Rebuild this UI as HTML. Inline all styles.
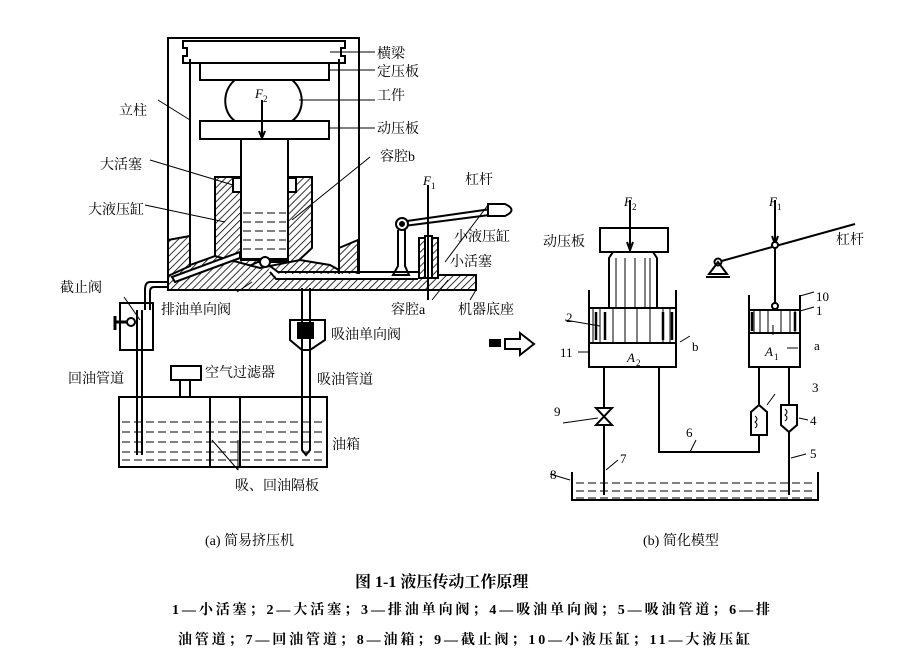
<!DOCTYPE html>
<html><head><meta charset="utf-8"><style>
html,body{margin:0;padding:0;background:#fff;width:905px;height:661px;overflow:hidden}
svg{display:block}
text{font-family:"Liberation Serif","Noto Serif CJK SC","Noto Sans CJK SC",serif;fill:#000}
.c{font-family:"Liberation Sans","Noto Sans CJK SC",sans-serif;font-size:14px}
</style></head><body>
<svg width="905" height="661" viewBox="0 0 905 661" xmlns="http://www.w3.org/2000/svg">
<defs>
<pattern id="h" width="5" height="5" patternUnits="userSpaceOnUse" patternTransform="rotate(45)">
<rect width="5" height="5" fill="#fff"/><line x1="0" y1="0" x2="0" y2="5" stroke="#000" stroke-width="1.6"/></pattern>
</defs>
<g fill="none" stroke="#000" stroke-width="2">
<path d="M168 278 V38 H359 V278"/>
<path d="M190 260 V59 M339 260 V59"/>
<path d="M183 41 H345 V48 H341 V56 H345 V63 H183 V56 H187 V48 H183 Z"/>
<rect x="200" y="63" width="129" height="17"/>
<path d="M235 80 C222 90 222 112 235 121 H292 C305 112 305 90 292 80 Z"/>
<rect x="200" y="121" width="129" height="18"/>
<line x1="262" y1="100" x2="262" y2="137"/>
<path d="M259 131 L262 138 L265 131"/>
<path d="M215 177 H312 V248 L297 262 H258 L240 270 H215 Z" fill="url(#h)"/>
<rect x="241" y="182" width="47" height="78" fill="#fff"/>
<rect x="241" y="139" width="47" height="120" fill="#fff"/>
<rect x="233" y="178" width="8" height="14" fill="#fff"/>
<rect x="288" y="178" width="8" height="14" fill="#fff"/>
<path d="M168 290 V275 L190 265 L215 256 L260 268 L300 260 L330 265 L339 270 V275 H476 V290 Z" fill="url(#h)"/>
<path d="M168 240 L190 236 V266 L168 276 Z" fill="url(#h)"/>
<path d="M339 248 L358 240 V276 H339 Z" fill="url(#h)"/>
<path d="M172 277 L240 252 L240 258 L175 282 Z" fill="#fff"/>
<circle cx="265" cy="262" r="5" fill="#fff"/>
<path d="M270 268 L278 276 H420" stroke-width="4" stroke="#fff"/>
<path d="M270 266 L278 272 H420 M270 272 L276 279 H418"/>
<rect x="419" y="238" width="19" height="40" fill="url(#h)"/>
<rect x="425" y="236" width="7" height="42" fill="#fff"/>
<line x1="428" y1="185" x2="428" y2="300"/>
<path d="M400 222 L505 207"/>
<path d="M404 226 L505 213"/>
<path d="M488 204 H505 Q518 210 505 216 H488 Z" fill="#fff"/>
<circle cx="402" cy="224" r="6" fill="#fff"/>
<circle cx="402" cy="224" r="2" fill="#000"/>
<path d="M398 230 V266 L393 275 H409 L405 266 V230"/>
<path d="M168 282 H150 Q145 282 145 290 V310"/>
<path d="M168 287 H154 Q150 287 150 292 V310"/>
<rect x="120" y="303" width="33" height="47"/>
<path d="M115 322 H128 M115 316 V330" stroke-width="3"/>
<circle cx="131" cy="322" r="4"/>
<path d="M137 310 V455 M142 310 V455"/>
<path d="M302 288 V450 L306 455 L310 450 V288"/>
<path d="M290 320 H325 V340 L310 350 H302 L290 340 Z"/>
<rect x="298" y="323" width="15" height="15" fill="#000"/>
<rect x="119" y="397" width="208" height="70"/>
<rect x="171" y="366" width="30" height="14"/>
<path d="M180 380 V397 M190 380 V397"/>
<path d="M210 397 V467 M240 397 V467"/>
</g>
<g stroke="#000" stroke-width="1" stroke-dasharray="8 4" fill="none">
<path d="M243 213 H286 M243 222 H286 M243 231 H286 M243 240 H286 M243 249 H286"/>
<path d="M122 422 H324 M122 432 H324 M122 442 H324 M122 452 H324 M122 460 H324"/>
<path d="M576 483 H815 M576 491 H815 M576 498 H815"/>
</g>
<g fill="none" stroke="#000" stroke-width="1">
<path d="M158 100 L190 120 M150 160 L233 185 M145 205 L225 222 M330 52 H375 M329 70 H375 M299 100 H375 M329 128 H375 M292 220 L370 157 M432 300 L448 280 M445 262 L488 205 M476 290 L470 300 M237 292 L252 282 M124 297 L140 320 M238 470 L212 440 M238 470 L238 440"/>
</g>
<g fill="none" stroke="#000" stroke-width="2">
<rect x="600" y="228" width="68" height="24"/>
<path d="M609 308 V258 L613 252 H653 L657 258 V308"/>
<path d="M589 290 V367 H676 V290"/>
<rect x="589" y="308" width="87" height="35"/>
<path d="M749 295 V367 H800 V295"/>
<rect x="749" y="310" width="51" height="23"/>
<line x1="630" y1="200" x2="630" y2="250"/><path d="M627 242 L630 250 L633 242"/>
<line x1="775" y1="200" x2="775" y2="305"/><path d="M772 236 L775 244 L778 236"/>
<path d="M718 262 L855 224"/>
<circle cx="775" cy="245" r="3" fill="#fff"/><circle cx="775" cy="306" r="3" fill="#fff"/>
<circle cx="718" cy="262" r="3.5" fill="#fff"/>
<path d="M718 262 L709 274 H727 Z M706 277 H730"/>
<path d="M604 367 V495 M659 367 V452 H759 V435 M759 367 V408 M789 367 V495"/>
<path d="M596 408 H612 L596 425 H612 Z" fill="#fff"/>
<path d="M751 412 L759 405 L767 412 V435 H751 Z" fill="#fff"/>
<path d="M781 405 H797 V425 L789 432 L781 425 Z" fill="#fff"/>
<path d="M572 472 V500 H818 V472"/>
<path d="M490 340 H500 V346 H490 Z" fill="#000"/>
<path d="M505 339 H520 V333 L534 344 L520 355 V349 H505 Z"/>
</g>
<g stroke="#000" stroke-width="1" fill="none">
<path d="M593 308 V343 M600 308 V343 M613 308 V343 M625 308 V343 M637 308 V343 M650 308 V343 M663 308 V343 M670 308 V343"/>
<path d="M616 258 V308 M625 258 V308 M635 258 V308 M645 258 V308 M650 258 V308"/>
<path d="M754 310 V333 M760 310 V333 M768 310 V333 M781 310 V333 M790 310 V333 M795 310 V333"/>
<path d="M755 416 q4 3 0 6 q4 3 0 6 M785 409 q4 3 0 6 q4 3 0 6 M799 418 L808 420 M767 405 L775 394 M800 296 L814 292 M800 311 L814 307 M773 325 V335 M787 348 H798 M680 342 L690 336 M589 352 L578 352 M565 320 L600 326 M563 423 L598 418 M606 470 L618 460 M791 458 L806 454 M550 474 L570 480 M690 452 L696 440"/>
</g>
<g fill="#000" stroke="#000" stroke-width="2.5"><path d="M596 312 V340 M605 312 V340 M663 312 V340 M672 312 V340 M752 312 V331 M795 312 V331"/></g>
<g class="c">
<text x="119" y="115">立柱</text>
<text x="100" y="169">大活塞</text>
<text x="88" y="214">大液压缸</text>
<text x="377" y="58">横梁</text>
<text x="377" y="76">定压板</text>
<text x="377" y="100">工件</text>
<text x="377" y="133">动压板</text>
<text x="380" y="161">容腔b</text>
<text x="465" y="184">杠杆</text>
<text x="454" y="241">小液压缸</text>
<text x="450" y="266">小活塞</text>
<text x="391" y="314">容腔a</text>
<text x="458" y="314">机器底座</text>
<text x="60" y="292">截止阀</text>
<text x="161" y="314">排油单向阀</text>
<text x="331" y="339">吸油单向阀</text>
<text x="68" y="383">回油管道</text>
<text x="205" y="377">空气过滤器</text>
<text x="317" y="384">吸油管道</text>
<text x="332" y="449">油箱</text>
<text x="235" y="490">吸、回油隔板</text>
<text x="543" y="246">动压板</text>
<text x="836" y="244">杠杆</text>
</g>
<g font-size="13">
<text x="255" y="98" font-style="italic">F</text><text x="263" y="102" font-size="9">2</text>
<text x="423" y="185" font-style="italic">F</text><text x="431" y="189" font-size="9">1</text>
<text x="624" y="206" font-style="italic">F</text><text x="632" y="210" font-size="9">2</text>
<text x="769" y="206" font-style="italic">F</text><text x="777" y="210" font-size="9">1</text>
<text x="627" y="362" font-style="italic">A</text><text x="636" y="366" font-size="9">2</text>
<text x="765" y="356" font-style="italic">A</text><text x="774" y="360" font-size="9">1</text>
<text x="692" y="351">b</text><text x="814" y="350">a</text>
<text x="816" y="301">10</text><text x="816" y="315">1</text>
<text x="566" y="322">2</text><text x="560" y="357">11</text>
<text x="812" y="392">3</text><text x="810" y="425">4</text>
<text x="810" y="458">5</text><text x="686" y="437">6</text>
<text x="620" y="463">7</text><text x="550" y="479">8</text>
<text x="554" y="416">9</text>
</g>
<g class="c" font-size="13">
<text x="205" y="545">(a)  简易挤压机</text>
<text x="643" y="545">(b) 简化模型</text>
<text x="355" y="587" font-size="16" font-weight="bold">图 1-1    液压传动工作原理</text>
<text x="172" y="614" font-weight="bold" textLength="598">1—小活塞；2—大活塞；3—排油单向阀；4—吸油单向阀；5—吸油管道；6—排</text>
<text x="178" y="644" font-weight="bold" textLength="572">油管道；7—回油管道；8—油箱；9—截止阀；10—小液压缸；11—大液压缸</text>
</g>
</svg>
</body></html>
